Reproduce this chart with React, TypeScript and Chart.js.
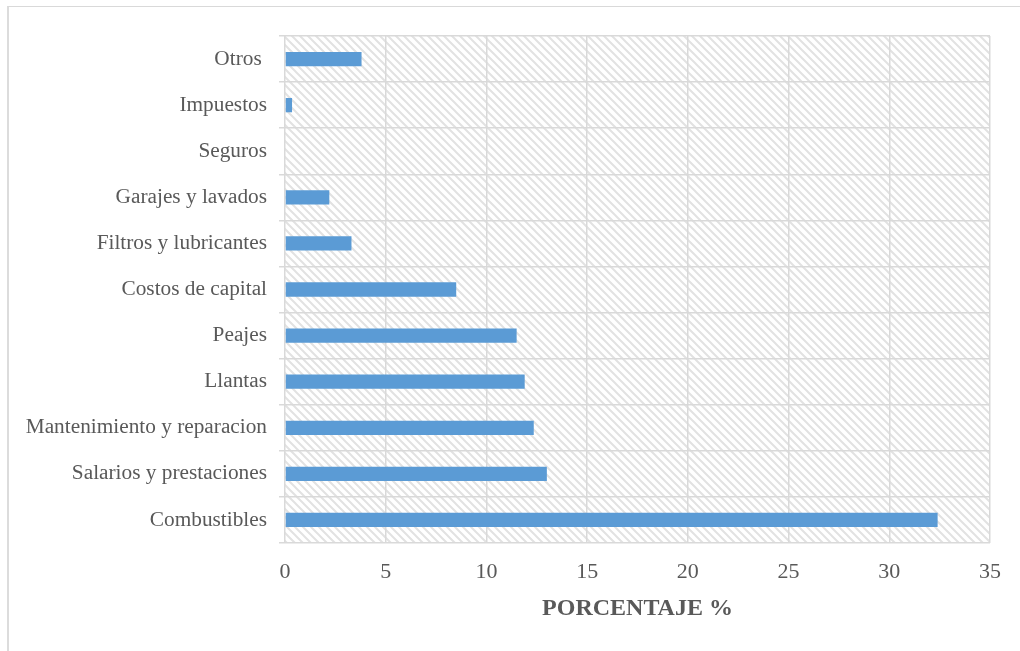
import React, { useEffect, useRef } from "react";
import { Chart, registerables } from "chart.js";

Chart.register(...registerables);

// Cost categories, listed from the bottom of the chart upwards
const categories = [
  "Combustibles",
  "Salarios y prestaciones",
  "Mantenimiento y reparacion",
  "Llantas",
  "Peajes",
  "Costos de capital",
  "Filtros y lubricantes",
  "Garajes y lavados",
  "Seguros",
  "Impuestos",
  "Otros ",
];

// Share of total cost, in percent
const porcentajes = [32.4, 13.0, 12.35, 11.9, 11.5, 8.5, 3.3, 2.2, 0, 0.35, 3.8];

const xTicks = [0, 5, 10, 15, 20, 25, 30, 35];

const TEXT = "#595959";
const GRID = "#d9d9d9";
const BAR = "#5b9bd5";
const FONT = "'Liberation Serif', 'Times New Roman', serif";

function makeHatch(ctx: CanvasRenderingContext2D): CanvasPattern | string {
  const tile = document.createElement("canvas");
  const s = 8;
  tile.width = s;
  tile.height = s;
  const t = tile.getContext("2d");
  if (!t) return "#ffffff";
  t.fillStyle = "#ffffff";
  t.fillRect(0, 0, s, s);
  t.strokeStyle = "#e2e2e2";
  t.lineWidth = 2;
  t.beginPath();
  t.moveTo(-s, -s);
  t.lineTo(2 * s, 2 * s);
  t.moveTo(-s, 0);
  t.lineTo(s, 2 * s);
  t.moveTo(0, -s);
  t.lineTo(2 * s, s);
  t.stroke();
  return ctx.createPattern(tile, "repeat") || "#ffffff";
}

const hatchBackground = {
  id: "hatchBackground",
  beforeDraw(chart: any) {
    const { ctx, chartArea } = chart;
    if (!chartArea) return;
    ctx.save();
    ctx.fillStyle = makeHatch(ctx);
    ctx.fillRect(
      chartArea.left,
      chartArea.top,
      chartArea.right - chartArea.left,
      chartArea.bottom - chartArea.top
    );
    ctx.restore();
  },
};

export default function App() {
  const ref = useRef<HTMLCanvasElement | null>(null);

  useEffect(() => {
    if (!ref.current) return;
    const chart = new Chart(ref.current, {
      type: "bar",
      data: {
        labels: categories,
        datasets: [
          {
            data: porcentajes,
            backgroundColor: BAR,
            borderWidth: 0,
            barPercentage: 0.62,
            categoryPercentage: 0.5,
          },
        ],
      },
      options: {
        indexAxis: "y",
        animation: false,
        responsive: false,
        maintainAspectRatio: false,
        layout: { padding: { top: 36, right: 30, bottom: 0, left: 0 } },
        plugins: {
          legend: { display: false },
          tooltip: { enabled: false },
        },
        scales: {
          x: {
            type: "linear",
            min: 0,
            max: 35,
            afterBuildTicks: (scale: any) => {
              scale.ticks = xTicks.map((v) => ({ value: v }));
            },
            afterFit: (scale: any) => {
              scale.height = 108;
            },
            grid: {
              color: GRID,
              lineWidth: 1.5,
              drawTicks: false,
            },
            border: { display: false },
            ticks: {
              color: TEXT,
              padding: 16,
              font: { family: FONT, size: 22 },
            },
            title: {
              display: true,
              text: "PORCENTAJE %",
              color: TEXT,
              padding: { top: 0, bottom: 28 },
              font: { family: FONT, size: 24, weight: "bold" },
            },
          },
          y: {
            reverse: true,
            afterFit: (scale: any) => {
              scale.width = 285;
            },
            grid: {
              color: GRID,
              lineWidth: 1.5,
              tickLength: 6,
            },
            border: { display: false },
            ticks: {
              color: TEXT,
              padding: 12,
              font: { family: FONT, size: 21.3 },
            },
          },
        },
      },
      plugins: [hatchBackground],
    } as any);
    return () => chart.destroy();
  }, []);

  return (
    <div
      style={{
        position: "fixed",
        left: 0,
        top: 0,
        width: 1020,
        height: 651,
        background: "#ffffff",
      }}
    >
      <div
        style={{
          position: "absolute",
          left: 7,
          top: 6,
          width: 1013,
          height: 645,
          borderLeft: "2px solid #dcdcdc",
          borderTop: "1px solid #d9d9d9",
          boxSizing: "border-box",
        }}
      />
      <canvas
        ref={ref}
        width={1020}
        height={651}
        style={{ position: "absolute", left: 0, top: 0, width: 1020, height: 651 }}
      />
    </div>
  );
}
